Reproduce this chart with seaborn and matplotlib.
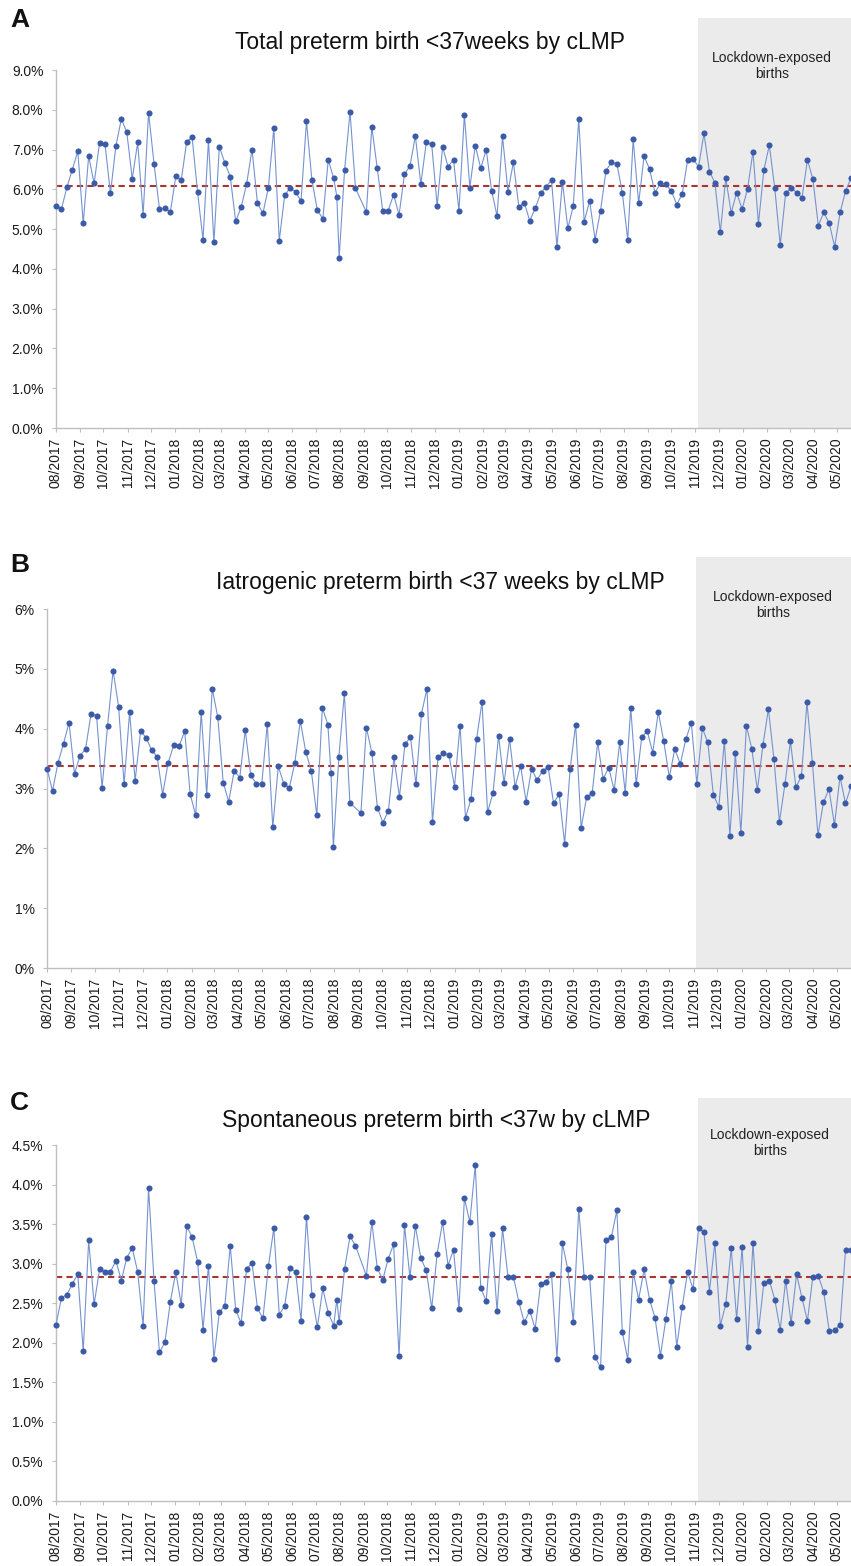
import pandas as pd
import numpy as np
import seaborn as sns
import matplotlib
matplotlib.use('Agg')
import matplotlib.pyplot as plt
import matplotlib.dates as mdates

# weekly cohorts by cLMP (one irregular week around 08/2018, as in the source chart)
week_slots = pd.date_range('2017-08-01', periods=147, freq='7D')
dates = list(week_slots[:52]) + [week_slots[51] + pd.Timedelta(days=4)] + list(week_slots[52:56]) + list(week_slots[57:])
lockdown_start = pd.Timestamp('2019-11-04')

# A - total preterm birth <37 weeks (%)
total_ptb = [5.58, 5.51, 6.05, 6.50, 6.96, 5.15, 6.84, 6.15, 7.17, 7.14,
             5.90, 7.09, 7.77, 7.44, 6.27, 7.18, 5.36, 7.93, 6.65, 5.51,
             5.53, 5.43, 6.33, 6.23, 7.20, 7.31, 5.93, 4.73, 7.24, 4.67,
             7.07, 6.67, 6.32, 5.20, 5.55, 6.13, 7.00, 5.65, 5.40, 6.04,
             7.54, 4.71, 5.85, 6.04, 5.93, 5.71, 7.71, 6.23, 5.48, 5.26,
             6.74, 6.28, 5.82, 4.28, 6.49, 7.95, 6.03, 5.43, 7.57, 6.53,
             5.46, 5.46, 5.87, 5.36, 6.38, 6.59, 7.34, 6.13, 7.18, 7.13,
             5.58, 7.07, 6.57, 6.75, 5.46, 7.88, 6.04, 7.10, 6.53, 7.00,
             5.97, 5.33, 7.34, 5.94, 6.68, 5.56, 5.67, 5.21, 5.52, 5.90,
             6.07, 6.23, 4.56, 6.19, 5.02, 5.59, 7.78, 5.19, 5.71, 4.74,
             5.46, 6.47, 6.68, 6.65, 5.92, 4.73, 7.26, 5.65, 6.84, 6.51,
             5.92, 6.15, 6.13, 5.96, 5.62, 5.88, 6.74, 6.77, 6.57, 7.41,
             6.45, 6.17, 4.92, 6.28, 5.41, 5.92, 5.50, 6.01, 6.95, 5.13,
             6.49, 7.11, 6.03, 4.60, 5.90, 6.04, 5.92, 5.79, 6.74, 6.26,
             5.09, 5.42, 5.15, 4.56, 5.42, 5.96, 6.28]

# B - iatrogenic preterm birth <37 weeks (%)
iatro_ptb = [3.33, 2.96, 3.43, 3.75, 4.10, 3.25, 3.55, 3.66, 4.25, 4.22,
             3.01, 4.05, 4.97, 4.37, 3.07, 4.28, 3.13, 3.96, 3.85, 3.64,
             3.53, 2.90, 3.43, 3.72, 3.71, 3.96, 2.91, 2.55, 4.28, 2.89,
             4.67, 4.20, 3.10, 2.78, 3.30, 3.18, 3.98, 3.22, 3.08, 3.08,
             4.08, 2.35, 3.37, 3.08, 3.01, 3.43, 4.13, 3.61, 3.29, 2.55,
             4.35, 4.07, 3.26, 2.02, 3.53, 4.59, 2.76,
             2.59, 4.02, 3.59, 2.68, 2.43, 2.63, 3.52, 2.86, 3.74, 3.86,
             3.07, 4.25, 4.67, 2.44, 3.52, 3.59, 3.56, 3.03, 4.05, 2.51,
             2.83, 3.82, 4.45, 2.60, 2.93, 3.88, 3.09, 3.83, 3.03, 3.38,
             2.78, 3.33, 3.14, 3.30, 3.36, 2.75, 2.91, 2.08, 3.33, 4.07,
             2.34, 2.86,
             2.92, 3.77, 3.16, 3.35, 2.97, 3.77, 2.93, 4.35, 3.07, 3.86,
             3.96, 3.60, 4.28, 3.79, 3.19, 3.66, 3.41, 3.82, 4.10, 3.08,
             4.01, 3.77, 2.90, 2.69, 3.80, 2.21, 3.59, 2.26, 4.05, 3.66,
             2.97, 3.72, 4.33, 3.50, 2.44, 3.07, 3.79, 3.02, 3.21, 4.44,
             3.42, 2.22, 2.77, 2.99, 2.39, 3.20, 2.75, 3.04]

# C - spontaneous preterm birth <37 weeks (%)
spont_ptb = [2.23, 2.57, 2.61, 2.75, 2.87, 1.90, 3.30, 2.49, 2.93, 2.90,
             2.90, 3.04, 2.79, 3.08, 3.20, 2.90, 2.22, 3.96, 2.79, 1.88,
             2.01, 2.52, 2.90, 2.48, 3.48, 3.34, 3.03, 2.17, 2.98, 1.80,
             2.39, 2.47, 3.23, 2.42, 2.25, 2.94, 3.01, 2.44, 2.31, 2.97,
             3.45, 2.36, 2.47, 2.95, 2.90, 2.28, 3.60, 2.61, 2.20, 2.69,
             2.38, 2.22, 2.55, 2.26, 2.94, 3.35, 3.23, 2.85, 3.53, 2.95,
             2.80, 3.06, 3.25, 1.83, 3.49, 2.83, 3.48, 3.07, 2.92, 2.44,
             3.13, 3.53, 2.98, 3.18, 2.43, 3.83, 3.53, 4.25, 2.70, 2.53,
             3.38, 2.40, 3.45, 2.84, 2.84, 2.52, 2.26, 2.41, 2.18, 2.75,
             2.77, 2.87, 1.80, 3.26, 2.93, 2.26, 3.70, 2.83, 2.84, 1.82,
             1.69, 3.30, 3.34, 3.68, 2.14, 1.79, 2.90, 2.55, 2.93, 2.55,
             2.32, 1.84, 2.30, 2.78, 1.95, 2.46, 2.90, 2.68, 3.45, 3.40,
             2.65, 3.27, 2.22, 2.49, 3.20, 2.30, 3.21, 1.95, 3.27, 2.15,
             2.76, 2.79, 2.55, 2.17, 2.79, 2.25, 2.87, 2.57, 2.28, 2.84,
             2.85, 2.64, 2.15, 2.16, 2.23, 3.18, 3.18]

# pre-lockdown mean lines (%)
mean_total = 6.09
mean_iatro = 3.37
mean_spont = 2.83

titles = ['Total preterm birth <37weeks by cLMP',
          'Iatrogenic preterm birth <37 weeks by cLMP',
          'Spontaneous preterm birth <37w by cLMP']
letters = ['A', 'B', 'C']
yticks_a = [0, 1, 2, 3, 4, 5, 6, 7, 8, 9]
yticks_b = [0, 1, 2, 3, 4, 5, 6]
yticks_c = [0, 0.5, 1.0, 1.5, 2.0, 2.5, 3.0, 3.5, 4.0, 4.5]

sns.set_style('ticks')
plt.rcParams['font.family'] = ['Liberation Sans', 'DejaVu Sans']

W, H = 851, 1566
fig = plt.figure(figsize=(W/100, H/100), dpi=100)

def px_axes(left, top, right, bottom):
    return fig.add_axes([left/W, 1-bottom/H, (right-left)/W, (bottom-top)/H])

# pixel boxes (left, top, right, bottom) and y-top of each panel
panels = [
    dict(box=(56, 18, 851, 428), ytop=10.31, vals=total_ptb, mean=mean_total, ticks=yticks_a, fmt='{:.1f}%',
         title_xy=(430, 42), letter_y=20, lock_xy=(772, 66)),
    dict(box=(47, 557, 851, 968), ytop=6.87, vals=iatro_ptb, mean=mean_iatro, ticks=yticks_b, fmt='{:.0f}%',
         title_xy=(440, 583), letter_y=565, lock_xy=(773, 605)),
    dict(box=(56, 1098, 851, 1501), ytop=5.10, vals=spont_ptb, mean=mean_spont, ticks=yticks_c, fmt='{:.1f}%',
         title_xy=(436, 1120), letter_y=1103, lock_xy=(770, 1143)),
]

line_col = '#7593D0'
dot_col = '#3B5AA8'
grey = '#BFBFBF'

for i, p in enumerate(panels):
    ax = px_axes(*p['box'])
    df = pd.DataFrame({'date': dates, 'rate': p['vals']})
    ax.axvspan(lockdown_start, dates[-1] + pd.Timedelta(days=30), color='#EBEBEB', lw=0, zorder=0)
    ax.axhline(p['mean'], color='#A8362F', ls=(0, (3, 2)), lw=1.5, zorder=1)
    sns.lineplot(data=df, x='date', y='rate', ax=ax, color=line_col, lw=0.8,
                 marker='o', markersize=4.4, markerfacecolor=dot_col,
                 markeredgecolor=dot_col, markeredgewidth=0, clip_on=False, zorder=3)
    ax.set_xlim(dates[0], dates[-1])
    ax.set_ylim(0, p['ytop'])
    ax.set_yticks(p['ticks'])
    ax.set_yticklabels([p['fmt'].format(t) for t in p['ticks']])
    ax.xaxis.set_major_locator(mdates.MonthLocator())
    ax.xaxis.set_major_formatter(mdates.DateFormatter('%m/%Y'))
    ax.tick_params(axis='x', rotation=90, labelsize=10, length=3, color=grey, pad=4, labelcolor='#1a1a1a')
    ax.tick_params(axis='y', labelsize=10, length=3, color=grey, pad=6, labelcolor='#1a1a1a')
    for s in ['top', 'right']:
        ax.spines[s].set_visible(False)
    for s in ['left', 'bottom']:
        ax.spines[s].set_color(grey)
        ax.spines[s].set_linewidth(1.0)
    ax.spines['left'].set_bounds(0, p['ticks'][-1])
    ax.set_xlabel('')
    ax.set_ylabel('')
    ax.set_facecolor('none')

    tx, ty = p['title_xy']
    fig.text(tx/W, 1-ty/H, titles[i], ha='center', va='center', fontsize=16.5, color='#111111')
    fig.text(10/W, 1-p['letter_y']/H, letters[i], ha='left', va='center', fontsize=19,
             fontweight='bold', color='#111111')
    lx, ly = p['lock_xy']
    fig.text(lx/W, 1-ly/H, 'Lockdown-exposed\nbirths', ha='center', va='center', fontsize=10,
             color='#222222', linespacing=1.2)

fig.savefig('out.png', dpi=100)
